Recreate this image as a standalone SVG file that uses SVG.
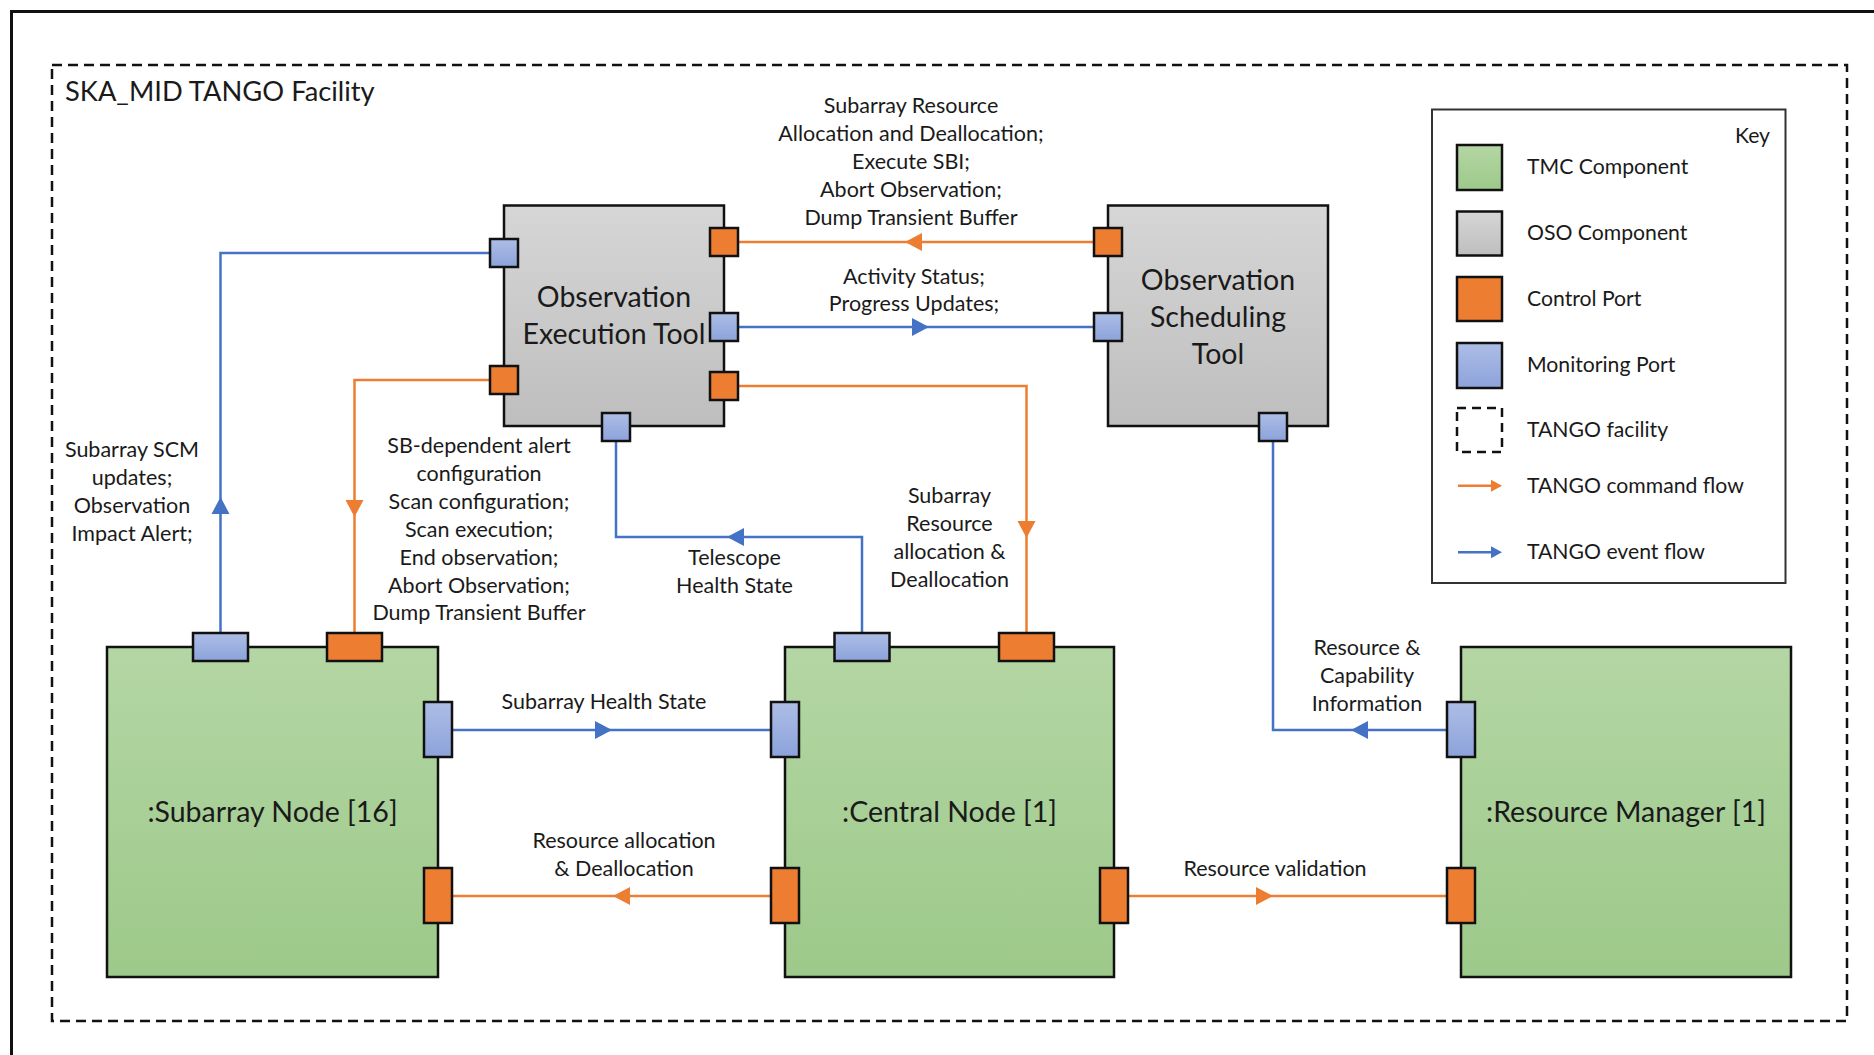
<svg xmlns="http://www.w3.org/2000/svg" xmlns:xlink="http://www.w3.org/1999/xlink" width="1874" height="1055" viewBox="0 0 1874 1055">
<style>
text{font-family:Lato,"Liberation Sans",sans-serif;fill:#1a1a1a}
.lbl{font-size:21.5px;text-anchor:middle}
.key{font-size:21.2px}
.title{font-size:28.5px;text-anchor:middle}
.node{stroke:#111;stroke-width:2.5}
.tmc{fill:url(#gGreen)}
.oso{fill:url(#gGray)}
.ctl{fill:#ED7D31;stroke:#111;stroke-width:2.5}
.mon{fill:url(#gBlue);stroke:#111;stroke-width:2.5}
.cO{fill:none;stroke:#ED7D31;stroke-width:2.5}
.cB{fill:none;stroke:#4472C4;stroke-width:2.5}
</style>
<defs>
<linearGradient id="gGreen" x1="0" y1="0" x2="0" y2="1"><stop offset="0" stop-color="#B4D6A4"/><stop offset="1" stop-color="#9DC98A"/></linearGradient>
<linearGradient id="gGray" x1="0" y1="0" x2="0" y2="1"><stop offset="0" stop-color="#D6D6D6"/><stop offset="1" stop-color="#BEBEBE"/></linearGradient>
<linearGradient id="gBlue" x1="0" y1="0" x2="0" y2="1"><stop offset="0" stop-color="#ADBDE6"/><stop offset="1" stop-color="#8CA3DA"/></linearGradient>
<polygon id="ahO" points="-17,-9 0,0 -17,9" fill="#ED7D31"/>
<polygon id="ahB" points="-17,-9 0,0 -17,9" fill="#4472C4"/>
<polygon id="ahOs" points="-11,-6 0,0 -11,6" fill="#ED7D31"/>
<polygon id="ahBs" points="-11,-6 0,0 -11,6" fill="#4472C4"/>
</defs>
<rect width="1874" height="1055" fill="#fff"/>
<rect x="11.5" y="11.5" width="1900" height="1100" fill="none" stroke="#111" stroke-width="3"/>
<g id="facility">
<rect x="52" y="65" width="1795" height="956" fill="none" stroke="#111" stroke-width="2.5" stroke-dasharray="10,6"/>
<text x="65" y="101" style="font-size:27.3px">SKA_MID TANGO Facility</text>
</g>
<g id="connectors">
<path class="cO" d="M738 242 H1094"/><use href="#ahO" transform="translate(905,242) rotate(180)"/>
<path class="cB" d="M738 327 H1094"/><use href="#ahB" transform="translate(929,327)"/>
<path class="cO" d="M738 386 H1026.5 V633"/><use href="#ahO" transform="translate(1026.5,538) rotate(90)"/>
<path class="cB" d="M490 253 H220.5 V633"/><use href="#ahB" transform="translate(220.5,497) rotate(-90)"/>
<path class="cO" d="M490 380 H354.5 V633"/><use href="#ahO" transform="translate(354.5,517) rotate(90)"/>
<path class="cB" d="M616 441 V537 H862 V633"/><use href="#ahB" transform="translate(727,537) rotate(180)"/>
<path class="cB" d="M1273 441 V730 H1447"/><use href="#ahB" transform="translate(1351,730) rotate(180)"/>
<path class="cB" d="M452 730 H771"/><use href="#ahB" transform="translate(612,730)"/>
<path class="cO" d="M771 896 H452"/><use href="#ahO" transform="translate(613,896) rotate(180)"/>
<path class="cO" d="M1128 896 H1447"/><use href="#ahO" transform="translate(1273,896)"/>
</g>
<g id="labels">
<text class="lbl" x="911" y="113">Subarray Resource</text>
<text class="lbl" x="911" y="141">Allocation and Deallocation;</text>
<text class="lbl" x="911" y="169">Execute SBI;</text>
<text class="lbl" x="911" y="197">Abort Observation;</text>
<text class="lbl" x="911" y="225">Dump Transient Buffer</text>
<text class="lbl" x="914" y="284">Activity Status;</text>
<text class="lbl" x="914" y="311">Progress Updates;</text>
<text class="lbl" x="132" y="457">Subarray SCM</text>
<text class="lbl" x="132" y="485">updates;</text>
<text class="lbl" x="132" y="513">Observation</text>
<text class="lbl" x="132" y="541">Impact Alert;</text>
<text class="lbl" x="479" y="453">SB-dependent alert</text>
<text class="lbl" x="479" y="481">configuration</text>
<text class="lbl" x="479" y="509">Scan configuration;</text>
<text class="lbl" x="479" y="537">Scan execution;</text>
<text class="lbl" x="479" y="565">End observation;</text>
<text class="lbl" x="479" y="593">Abort Observation;</text>
<text class="lbl" x="479" y="620">Dump Transient Buffer</text>
<text class="lbl" x="734.5" y="565">Telescope</text>
<text class="lbl" x="734.5" y="593">Health State</text>
<text class="lbl" x="949.5" y="503">Subarray</text>
<text class="lbl" x="949.5" y="531">Resource</text>
<text class="lbl" x="949.5" y="559">allocation &amp;</text>
<text class="lbl" x="949.5" y="587">Deallocation</text>
<text class="lbl" x="604" y="709">Subarray Health State</text>
<text class="lbl" x="624" y="848">Resource allocation</text>
<text class="lbl" x="624" y="876">&amp; Deallocation</text>
<text class="lbl" x="1275" y="876">Resource validation</text>
<text class="lbl" x="1367" y="655">Resource &amp;</text>
<text class="lbl" x="1367" y="683">Capability</text>
<text class="lbl" x="1367" y="711">Information</text>
</g>
<g id="oet">
<rect class="node oso" x="504" y="205.5" width="220" height="220.5"/>
<text class="title" x="614" y="307">Observation</text>
<text class="title" x="614" y="344">Execution Tool</text>
<rect class="mon" x="490" y="239" width="28" height="28"/>
<rect class="ctl" x="490" y="366" width="28" height="28"/>
<rect class="ctl" x="710" y="228" width="28" height="28"/>
<rect class="mon" x="710" y="313" width="28" height="28"/>
<rect class="ctl" x="710" y="372" width="28" height="28"/>
<rect class="mon" x="602" y="413" width="28" height="28"/>
</g>
<g id="ost">
<rect class="node oso" x="1108" y="205.5" width="220" height="220.5"/>
<text class="title" x="1218" y="290">Observation</text>
<text class="title" x="1218" y="327">Scheduling</text>
<text class="title" x="1218" y="364">Tool</text>
<rect class="ctl" x="1094" y="228" width="28" height="28"/>
<rect class="mon" x="1094" y="313" width="28" height="28"/>
<rect class="mon" x="1259" y="413" width="28" height="28"/>
</g>
<g id="subarray-node">
<rect class="node tmc" x="107" y="647" width="331" height="330"/>
<text class="title" x="272.5" y="822">:Subarray Node [16]</text>
<rect class="mon" x="193" y="633" width="55" height="28"/>
<rect class="ctl" x="327" y="633" width="55" height="28"/>
<rect class="mon" x="424" y="702" width="28" height="55"/>
<rect class="ctl" x="424" y="868" width="28" height="55"/>
</g>
<g id="central-node">
<rect class="node tmc" x="785" y="647" width="329" height="330"/>
<text class="title" x="949.5" y="822">:Central Node [1]</text>
<rect class="mon" x="771" y="702" width="28" height="55"/>
<rect class="ctl" x="771" y="868" width="28" height="55"/>
<rect class="mon" x="834.5" y="633" width="55" height="28"/>
<rect class="ctl" x="999" y="633" width="55" height="28"/>
<rect class="ctl" x="1100" y="868" width="28" height="55"/>
</g>
<g id="resource-manager">
<rect class="node tmc" x="1461" y="647" width="330" height="330"/>
<text class="title" x="1626" y="822">:Resource Manager [1]</text>
<rect class="mon" x="1447" y="702" width="28" height="55"/>
<rect class="ctl" x="1447" y="868" width="28" height="55"/>
</g>
<g id="legend">
<rect x="1432" y="109.5" width="353.5" height="473.5" fill="#fff" stroke="#333" stroke-width="2"/>
<text class="key" x="1770" y="142.5" text-anchor="end">Key</text>
<rect class="node tmc" x="1457" y="145" width="45" height="45"/>
<text class="key" x="1527" y="174">TMC Component</text>
<rect class="node oso" x="1457" y="211.5" width="45" height="44"/>
<text class="key" x="1527" y="240">OSO Component</text>
<rect class="ctl" x="1457" y="277" width="45" height="44"/>
<text class="key" x="1527" y="306">Control Port</text>
<rect class="mon" x="1457" y="343" width="45" height="45"/>
<text class="key" x="1527" y="372">Monitoring Port</text>
<rect x="1457" y="408" width="45" height="44" fill="none" stroke="#111" stroke-width="2.5" stroke-dasharray="9,6"/>
<text class="key" x="1527" y="436.5">TANGO facility</text>
<path class="cO" d="M1458 485.7 H1492"/><use href="#ahOs" transform="translate(1502,485.7)"/>
<text class="key" x="1527" y="493">TANGO command flow</text>
<path class="cB" d="M1458 552.3 H1492"/><use href="#ahBs" transform="translate(1502,552.3)"/>
<text class="key" x="1527" y="559">TANGO event flow</text>
</g>
</svg>
